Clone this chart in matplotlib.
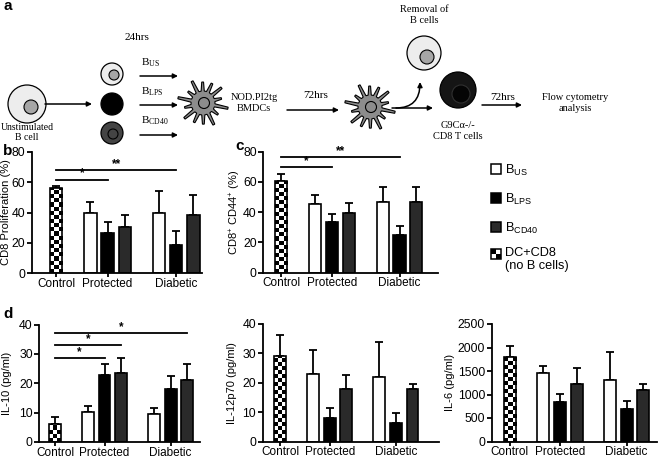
import numpy as np
import matplotlib
matplotlib.use('Agg')
import matplotlib.pyplot as plt
from matplotlib.patches import Rectangle, Circle, Polygon

plt.rcParams['font.family'] = ['Liberation Sans', 'DejaVu Sans']
plt.rcParams['mathtext.fontset'] = 'custom'
plt.rcParams['mathtext.rm'] = 'Liberation Sans'

# ---------------- data ----------------
groups = ['Control', 'Protected', 'Diabetic']
series_labels = [r'$\mathregular{B_{US}}$', r'$\mathregular{B_{LPS}}$',
                 r'$\mathregular{B_{CD40}}$', 'DC+CD8\n(no B cells)']

# panel b: CD8 proliferation (%)
b_ctrl, b_ctrl_err = 56.1, 1.1
b_us, b_us_err = [39.6, 39.8], [7.6, 14.1]
b_lps, b_lps_err = [26.7, 18.7], [7.2, 8.9]
b_cd40, b_cd40_err = [30.7, 38.3], [7.8, 13.4]
b_sig_y = [61.7, 67.8]
b_sig_txt = ['*', '**']
b_sig_target = [('Protected', None), ('Diabetic', None)]

# panel c: CD8+ CD44+ (%)
c_ctrl, c_ctrl_err = 60.8, 4.4
c_us, c_us_err = [45.2, 46.7], [6.1, 10.1]
c_lps, c_lps_err = [33.7, 24.9], [5.1, 5.9]
c_cd40, c_cd40_err = [39.2, 46.5], [6.6, 10.3]
c_sig_y = [70.0, 76.2]
c_sig_txt = ['*', '**']
c_sig_target = [('Protected', None), ('Diabetic', None)]

# panel d1: IL-10 (pg/ml)
d1_ctrl, d1_ctrl_err = 6.2, 2.3
d1_us, d1_us_err = [10.2, 9.5], [2.0, 2.1]
d1_lps, d1_lps_err = [22.9, 18.1], [3.6, 4.3]
d1_cd40, d1_cd40_err = [23.5, 21.2], [5.1, 5.2]
d1_sig_y = [28.6, 32.9, 37.1]
d1_sig_txt = ['*', '*', '*']
d1_sig_target = [('Protected', 1), ('Protected', 2), ('Diabetic', 2)]

# panel d2: IL-12p70 (pg/ml)
d2_ctrl, d2_ctrl_err = 29.2, 7.2
d2_us, d2_us_err = [23.0, 21.8], [8.3, 12.2]
d2_lps, d2_lps_err = [8.0, 6.3], [3.3, 3.5]
d2_cd40, d2_cd40_err = [18.0, 17.8], [4.5, 1.7]

# panel d3: IL-6 (pg/ml)
d3_ctrl, d3_ctrl_err = 1792, 233
d3_us, d3_us_err = [1459, 1317], [142, 595]
d3_lps, d3_lps_err = [850, 694], [163, 177]
d3_cd40, d3_cd40_err = [1225, 1098], [340, 127]

# ---------------- figure ----------------
W, H = 658, 458
fig = plt.figure(figsize=(W / 100, H / 100), dpi=100)

ov = fig.add_axes([0, 0, 1, 1], zorder=-1)
ov.set_xlim(0, W)
ov.set_ylim(H, 0)
ov.axis('off')

group_center = {'Control': 0, 'Protected': 3, 'Diabetic': 7}
BW = 0.72
COL_US, COL_LPS, COL_CD40 = 'white', 'black', '#2a2a2a'


def px_rect(left, right, top, bottom):
    return [left / W, 1 - bottom / H, (right - left) / W, (bottom - top) / H]


def checker_bar(ax, x, h, w):
    base = ax.bar([x], [h], width=w, color='white', edgecolor='none', zorder=2)[0]
    p0 = ax.transData.transform((x - w / 2, 0))
    p1 = ax.transData.transform((x + w / 2, h))
    wpx, hpx = p1[0] - p0[0], p1[1] - p0[1]
    ncol = 3
    sq = wpx / ncol
    nrow = max(1, int(round(hpx / sq)))
    img = (np.add.outer(np.arange(nrow), np.arange(ncol)) % 2).astype(float)
    im = ax.imshow(img, extent=[x - w / 2, x + w / 2, 0, nrow * sq * h / hpx],
                   cmap='gray', vmin=0, vmax=1, aspect='auto',
                   interpolation='nearest', zorder=2.5, origin='lower')
    im.set_clip_path(base)
    ax.bar([x], [h], width=w, fill=False, edgecolor='black', linewidth=1.2, zorder=3)


def panel(rect, xlim, ylim, yticks, ctrl, ctrl_err, us, us_err, lps, lps_err,
          cd40, cd40_err, ylabel, ylabel_px, sig=None):
    ax = fig.add_axes(px_rect(*rect))
    ax.set_autoscale_on(False)
    ax.set_xlim(*xlim)
    ax.set_ylim(*ylim)
    for s in ['top', 'right']:
        ax.spines[s].set_visible(False)
    for s in ['left', 'bottom']:
        ax.spines[s].set_linewidth(1.3)
    ax.tick_params(direction='out', length=3.5, width=1.3, labelsize=8.8, pad=1.2)
    ax.set_yticks(yticks)
    ax.set_xticks([group_center[g] for g in groups])
    ax.set_xticklabels(groups, fontsize=8.5)
    ax.tick_params(axis='x', length=3, pad=0.3)

    checker_bar(ax, group_center['Control'], ctrl, BW)
    ax.errorbar([group_center['Control']], [ctrl], yerr=[[0], [ctrl_err]], fmt='none',
                ecolor='black', elinewidth=1.3, capsize=3, capthick=1.3, zorder=1.5)
    for k, (vals, errs, col) in enumerate([(us, us_err, COL_US), (lps, lps_err, COL_LPS),
                                          (cd40, cd40_err, COL_CD40)]):
        xs = [group_center[g] + (k - 1) for g in groups[1:]]
        ax.bar(xs, vals, width=BW, color=col, edgecolor='black', linewidth=1.2, zorder=2)
        ax.errorbar(xs, vals, yerr=[np.zeros(len(vals)), errs], fmt='none',
                    ecolor='black', elinewidth=1.3, capsize=3, capthick=1.3, zorder=1.5)
    ax.set_ylabel(ylabel, fontsize=8)
    ax.yaxis.set_label_coords((ylabel_px - rect[0]) / (rect[1] - rect[0]), 0.5)
    if sig is not None:
        ys, txts, targets = sig
        for y, t, (g, s) in zip(ys, txts, targets):
            x1 = group_center[g] + (0 if s is None else s - 1)
            x0 = group_center['Control']
            ax.plot([x0, x1], [y, y], color='black', lw=1.3, clip_on=False)
            ax.text((x0 + x1) / 2, y, t, ha='center', va='bottom', fontsize=8.5,
                    fontweight='bold')
    return ax


panel((31.7, 202, 151.7, 273.3), (-1.42, 8.5), (0, 80), [0, 20, 40, 60, 80],
      b_ctrl, b_ctrl_err, b_us, b_us_err, b_lps, b_lps_err, b_cd40, b_cd40_err,
      'CD8 Proliferation (%)', 11, (b_sig_y, b_sig_txt, b_sig_target))
panel((263.3, 437.7, 151.7, 272.7), (-1.06, 9.26), (0, 80), [0, 20, 40, 60, 80],
      c_ctrl, c_ctrl_err, c_us, c_us_err, c_lps, c_lps_err, c_cd40, c_cd40_err,
      r'CD8$^{+}$ CD44$^{+}$ (%)', 243, (c_sig_y, c_sig_txt, c_sig_target))
panel((39.3, 200, 324.5, 442), (-0.95, 8.78), (0, 40), [0, 10, 20, 30, 40],
      d1_ctrl, d1_ctrl_err, d1_us, d1_us_err, d1_lps, d1_lps_err, d1_cd40, d1_cd40_err,
      'IL-10 (pg/ml)', 12, (d1_sig_y, d1_sig_txt, d1_sig_target))
panel((262.5, 439, 324, 441.5), (-1.07, 9.6), (0, 40), [0, 10, 20, 30, 40],
      d2_ctrl, d2_ctrl_err, d2_us, d2_us_err, d2_lps, d2_lps_err, d2_cd40, d2_cd40_err,
      'IL-12p70 (pg/ml)', 237)
panel((491.7, 657, 324, 441.5), (-1.08, 8.82), (0, 2500), [0, 500, 1000, 1500, 2000, 2500],
      d3_ctrl, d3_ctrl_err, d3_us, d3_us_err, d3_lps, d3_lps_err, d3_cd40, d3_cd40_err,
      'IL-6 (pg/ml)', 455)

# ---------------- panel letters ----------------
for lab, (x, y) in zip('abcd', [(3, 6), (3, 151), (235, 146), (3, 314)]):
    ov.text(x, y, lab, fontsize=11, fontweight='bold', ha='left', va='center')

# ---------------- legend ----------------
leg_y = [169, 198, 227, 254]
leg_cols = [COL_US, COL_LPS, COL_CD40, None]
for y, col, lab in zip(leg_y, leg_cols, series_labels):
    if col is not None:
        ov.add_patch(Rectangle((491, y - 5), 10, 10, facecolor=col, edgecolor='black', lw=1.1))
    else:
        for i in range(2):
            for j in range(2):
                c = 'black' if (i + j) % 2 == 0 else 'white'
                ov.add_patch(Rectangle((491 + 5 * i, y - 5 + 5 * j), 5, 5, facecolor=c,
                                       edgecolor='none'))
        ov.add_patch(Rectangle((491, y - 5), 10, 10, fill=False, edgecolor='black', lw=1.1))
    if '\n' in lab:
        ov.text(505, y - 7, lab, fontsize=9.2, ha='left', va='top', linespacing=1.15)
    else:
        ov.text(505, y + 1, lab, fontsize=9.2, ha='left', va='center')

# ---------------- schematic (panel a) ----------------
SERIF = ['Liberation Serif', 'DejaVu Serif']
LIGHT, MID = '#ededed', '#a6a6a6'


def cell(cx, cy, r, face, nuc_face, nuc_r, nuc_dx=0, nuc_dy=0, nuc_edge='black'):
    ov.add_patch(Circle((cx, cy), r, facecolor=face, edgecolor='black', lw=0.9))
    if nuc_face is not None:
        ov.add_patch(Circle((cx + nuc_dx, cy + nuc_dy), nuc_r, facecolor=nuc_face,
                            edgecolor=nuc_edge, lw=0.8))


def dc(cx, cy, r_in=12, n=14):
    pts = []
    for k in range(n):
        a = 2 * np.pi * k / n + 0.2
        r_out = 22 + 3.5 * np.cos(2.7 * k)
        d = 0.13
        pts.append((cx + r_in * np.cos(a - d), cy + r_in * np.sin(a - d)))
        pts.append((cx + r_out * np.cos(a - 0.035), cy + r_out * np.sin(a - 0.035)))
        pts.append((cx + r_out * np.cos(a + 0.05), cy + r_out * np.sin(a + 0.05)))
        pts.append((cx + r_in * np.cos(a + d), cy + r_in * np.sin(a + d)))
    ov.add_patch(Polygon(pts, closed=True, facecolor='#8c8c8c', edgecolor='black', lw=0.8))
    ov.add_patch(Circle((cx + 1, cy), 5.5, facecolor='#8c8c8c', edgecolor='black', lw=0.8))


def arrow(x0, y0, x1, y1, cs=None):
    props = dict(arrowstyle='-|>', lw=1.1, color='black', mutation_scale=7,
                 shrinkA=0, shrinkB=0)
    if cs:
        props['connectionstyle'] = cs
    ov.annotate('', xy=(x1, y1), xytext=(x0, y0), arrowprops=props)


cell(27, 104, 19, LIGHT, MID, 7, 4, 3)
ov.text(27, 123, 'Unstimulated\nB cell', ha='center', va='top', fontsize=7,
        family=SERIF, linespacing=1.15)
arrow(45, 104, 92, 104)

cell(112, 74, 11, LIGHT, MID, 5, 2, 1)
cell(112, 104, 11, 'black', None, 0)
cell(112, 133, 11, '#444444', '#444444', 5, 1, 1)

ov.text(137, 37, '24hrs', ha='center', va='center', fontsize=8, family=SERIF)
for y_lab, y_arr, lab in zip([63, 92, 121], [76, 105, 135], series_labels[:3]):
    ov.text(141, y_lab, lab, ha='left', va='center', fontsize=8, family=SERIF)
    arrow(140, y_arr, 178, y_arr)

dc(203, 103)
ov.text(254, 103, 'NOD.PI2tg\nBMDCs', ha='center', va='center', fontsize=7.5,
        family=SERIF, linespacing=1.3)
ov.text(316, 95, '72hrs', ha='center', va='center', fontsize=8, family=SERIF)
arrow(287, 110, 339, 110)

dc(370, 107)
arrow(392, 108, 433, 108)
arrow(396, 108, 420, 82, cs='angle3,angleA=0,angleB=90')
cell(424, 53, 17, LIGHT, MID, 7, 3, 4)
ov.text(424, 15, 'Removal of\nB cells', ha='center', va='center', fontsize=7.5,
        family=SERIF, linespacing=1.3)

cell(458, 90, 18, '#151515', '#050505', 9, 3, 4, nuc_edge='#303030')
ov.text(458, 131, 'G9C\u03b1-/-\nCD8 T cells', ha='center', va='center', fontsize=7.5,
        family=SERIF, linespacing=1.3)
ov.text(503, 97, '72hrs', ha='center', va='center', fontsize=8, family=SERIF)
arrow(482, 105, 522, 105)
ov.text(575, 103, 'Flow cytometry\nanalysis', ha='center', va='center', fontsize=7.5,
        family=SERIF, linespacing=1.3)

fig.savefig('out.png', dpi=100)
